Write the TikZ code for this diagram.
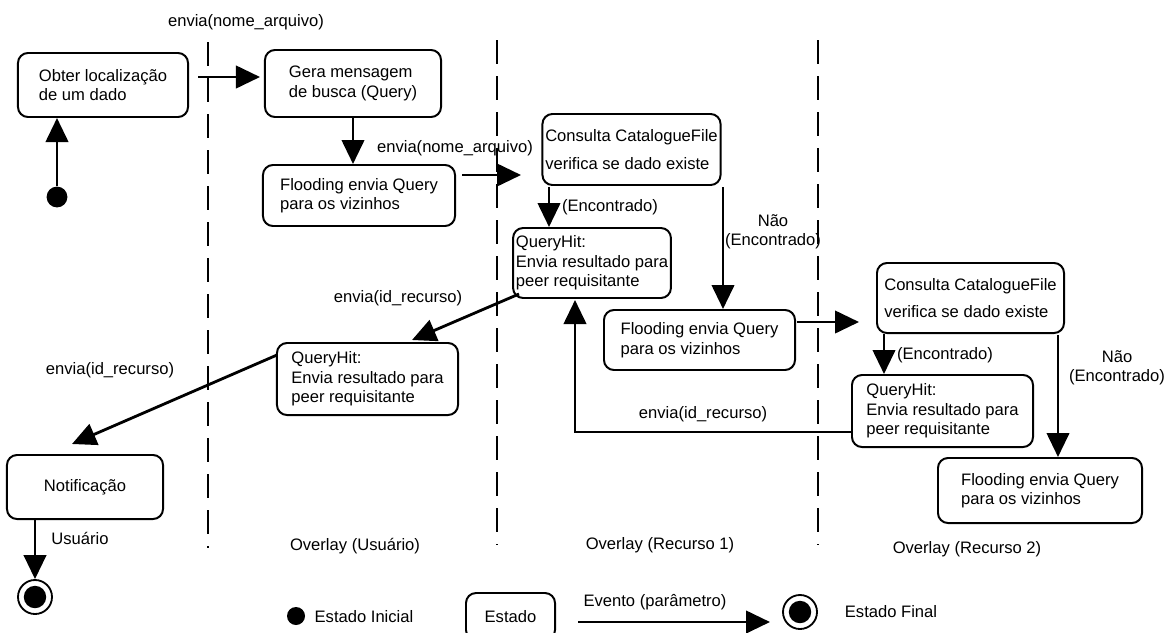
\documentclass[tikz,border=0pt]{standalone}
\usepackage{fontspec}
\setmainfont{Liberation Sans}
\usepackage{tikz}
\usetikzlibrary{arrows.meta,calc}
\tikzstyle{st}=[rectangle,rounded corners=0.25cm,draw=black,
  line width=1.4pt,inner sep=2pt,align=left]
\tikzstyle{ini}=[circle,fill=black,minimum size=0.52cm,inner sep=0pt]
\tikzstyle{fin}=[circle,draw=black,line width=1.3pt,minimum size=0.85cm,inner sep=0pt,
  path picture={\fill[black] (path picture bounding box.center) circle (0.28cm);}]
\tikzstyle{ev}=[line width=2pt,-{Triangle[length=0.6cm,width=0.56cm]}]
\tikzstyle{lane}=[line width=1.5pt,dash pattern=on 0.6cm off 0.3cm]
\tikzstyle{lbl}=[inner sep=0pt,align=center]
\tikzstyle{none}=[]

\begin{document}
\begin{tikzpicture}[x=0.025cm,y=-0.025cm,font=\fontsize{11.8}{13.8}\selectfont]
            \useasboundingbox (0,0) rectangle (1168,632);
            \draw [style=lane] (208,42) to (208,548);
            \draw [style=lane] (497,40) to (497,545);
            \draw [style=lane] (818,40) to (818,545);
            \node [style=ini] (0) at (57, 197) {};
            \node [style=st, minimum width=4.25cm, minimum height=1.6cm] (1) at (103, 85) {Obter localização\\de um dado};
            \node [style=st, minimum width=4.4cm, minimum height=1.675cm] (2) at (353, 83.5) {Gera mensagem\\de busca (Query)};
            \node [style=st, minimum width=4.8cm, minimum height=1.525cm] (3) at (359, 195.5) {Flooding envia Query\\para os vizinhos};
            \node [style=st, minimum width=4.325cm, minimum height=1.775cm] (4) at (631.5, 149.5) {Consulta CatalogueFile\\[6pt]verifica se dado existe};
            \node [style=st, minimum width=3.75cm, minimum height=1.75cm] (5) at (592, 263) {QueryHit:\\Envia resultado para\\peer requisitante};
            \node [style=st, minimum width=4.775cm, minimum height=1.5cm] (6) at (699.5, 340) {Flooding envia Query\\para os vizinhos};
            \node [style=st, minimum width=4.675cm, minimum height=1.75cm] (7) at (970.5, 298) {Consulta CatalogueFile\\[6pt]verifica se dado existe};
            \node [style=st, minimum width=4.525cm, minimum height=1.8cm] (8) at (942.5, 411) {QueryHit:\\Envia resultado para\\peer requisitante};
            \node [style=st, minimum width=5.1cm, minimum height=1.625cm] (9) at (1040, 490.5) {Flooding envia Query\\para os vizinhos};
            \node [style=st, minimum width=4.525cm, minimum height=1.8cm] (10) at (367.5, 379) {QueryHit:\\Envia resultado para\\peer requisitante};
            \node [style=st, minimum width=3.9cm, minimum height=1.6cm, align=center] (11) at (85, 487) {Notificação};
            \node [style=fin] (12) at (35, 597) {};
            \node [style=ini, minimum size=0.45cm] (13) at (296, 616) {};
            \node [style=st, minimum width=2.225cm, minimum height=1.175cm, align=center] (14) at (510.5, 616.5) {Estado};
            \node [style=fin] (15) at (800, 612) {};
            \node [style=none] (20) at (198, 77) {};
            \node [style=none] (21) at (260, 77) {};
            \node [style=none] (22) at (462, 175) {};
            \node [style=none] (23) at (521, 175) {};
            \node [style=none] (24) at (549, 187) {};
            \node [style=none] (25) at (723, 187) {};
            \node [style=none] (26) at (797, 322) {};
            \node [style=none] (27) at (859, 322) {};
            \node [style=none] (28) at (884, 334) {};
            \node [style=none] (29) at (1058, 335) {};
            \node [style=none] (30) at (851, 432) {};
            \node [style=none] (31) at (575, 300) {};
            \node [style=none] (32) at (519, 294) {};
            \node [style=none] (33) at (412, 340) {};
            \node [style=none] (34) at (277, 355) {};
            \node [style=none] (35) at (72, 444) {};
            \node [style=none] (38) at (578, 622) {};
            \node [style=none] (39) at (770, 622) {};
            \node [style=lbl] (40) at (246, 22) {envia(nome\_arquivo)};
            \node [style=lbl] (41) at (455, 148) {envia(nome\_arquivo)};
            \node [style=lbl] (42) at (610, 207) {(Encontrado)};
            \node [style=lbl] (43) at (773, 232) {Não\\(Encontrado)};
            \node [style=lbl] (44) at (945, 355) {(Encontrado)};
            \node [style=lbl] (45) at (1117, 368) {Não\\(Encontrado)};
            \node [style=lbl] (46) at (703, 414) {envia(id\_recurso)};
            \node [style=lbl] (47) at (398, 298) {envia(id\_recurso)};
            \node [style=lbl] (48) at (110, 370) {envia(id\_recurso)};
            \node [style=lbl] (49) at (80, 538) {Usuário};
            \node [style=lbl] (50) at (355, 546) {Overlay (Usuário)};
            \node [style=lbl] (51) at (660, 545) {Overlay (Recurso 1)};
            \node [style=lbl] (52) at (967, 549) {Overlay (Recurso 2)};
            \node [style=lbl] (53) at (364, 617) {Estado Inicial};
            \node [style=lbl] (54) at (655, 602) {Evento (parâmetro)};
            \node [style=lbl] (55) at (891, 612) {Estado Final};
            \draw [style=ev] (0) to (0 |- 1.south);
            \draw [style=ev] (20.center) to (21.center);
            \draw [style=ev] (2.south) to (2.south |- 3.north);
            \draw [style=ev] (22.center) to (23.center);
            \draw [style=ev] (24.center) to (24.center |- 5.north);
            \draw [style=ev] (25.center) to (25.center |- 6.north);
            \draw [style=ev] (26.center) to (27.center);
            \draw [style=ev] (28.center) to (28.center |- 8.north);
            \draw [style=ev] (29.center) to (29.center |- 9.north);
            \draw [style=ev] (30.center) -| (31.center);
            \draw [style=ev] (32.center) to (33.center);
            \draw [style=ev] (34.center) to (35.center);
            \draw [style=ev] (12.north |- 11.south) to (12);
            \draw [style=ev] (38.center) to (39.center);
    \end{tikzpicture}
\end{document}
